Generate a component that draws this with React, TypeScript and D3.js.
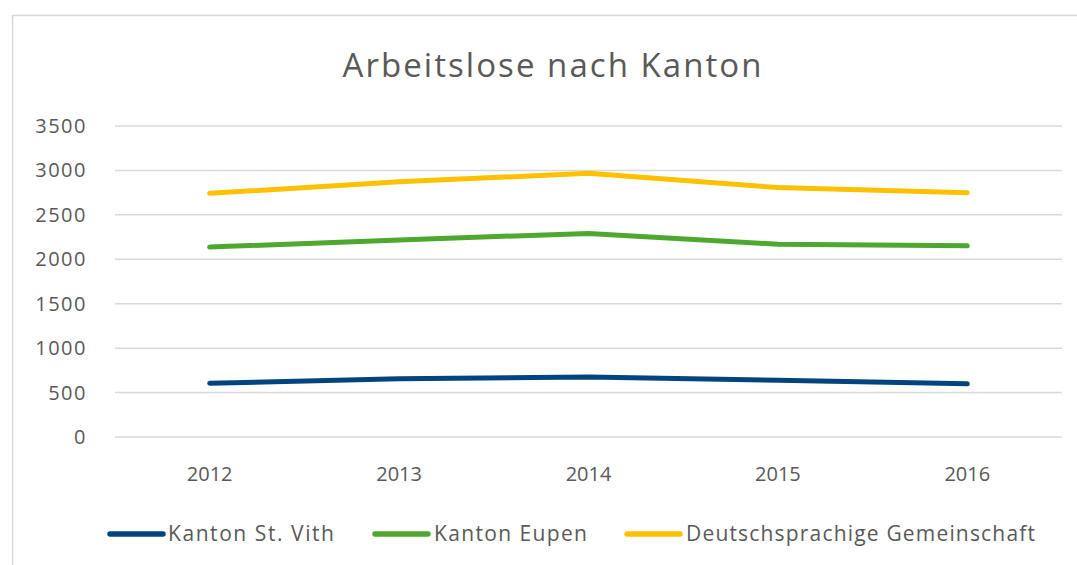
import React from "react";
import * as d3 from "d3";

const years = ["2012", "2013", "2014", "2015", "2016"];
const stVith = [605, 655, 676, 638, 598];
const eupen = [2137, 2218, 2291, 2169, 2151];
const dg = [2742, 2873, 2967, 2807, 2749];
const yTicks = [0, 500, 1000, 1500, 2000, 2500, 3000, 3500];
const seriesNames = ["Kanton St. Vith", "Kanton Eupen", "Deutschsprachige Gemeinschaft"];
const seriesColors = ["#02447e", "#4ea72e", "#ffc000"];

const W = 1077;
const H = 565;
const FONT = "'Open Sans', 'DejaVu Sans', sans-serif";
const TEXT = "#595959";

export default function App() {
  const x = d3.scaleBand<string>().domain(years).range([115, 1062]).padding(0);
  const y = d3.scaleLinear().domain([0, 3500]).range([437, 126]);
  const cx = (d: string) => (x(d) as number) + x.bandwidth() / 2;
  const line = d3
    .line<number>()
    .x((_, i) => cx(years[i]))
    .y((v) => y(v));
  const data = [stVith, eupen, dg];

  const legend = [
    { lx: 110, tx: 168, w: 166 },
    { lx: 375, tx: 434, w: 153 },
    { lx: 627, tx: 686, w: 349 },
  ];

  return (
    <div style={{ position: "absolute", left: 0, top: 0 }}>
      <svg width={W} height={H} style={{ display: "block", background: "#fff" }}>
        <rect x={12.5} y={15.5} width={W + 20} height={H + 20} fill="#fff" stroke="#d9d9d9" strokeWidth={1.5} />
        <text
          x={552}
          y={77}
          textAnchor="middle"
          fontFamily={FONT}
          fontSize={33}
          fill={TEXT}
          textLength={419}
          lengthAdjust="spacing"
        >
          Arbeitslose nach Kanton
        </text>
        {yTicks.map((t) => (
          <g key={t}>
            <line x1={115} x2={1062} y1={y(t)} y2={y(t)} stroke="#d9d9d9" strokeWidth={1.5} />
            <text
              x={87}
              y={y(t) + 7}
              textAnchor="end"
              fontFamily={FONT}
              fontSize={20}
              fill={TEXT}
              letterSpacing={1.5}
            >
              {t}
            </text>
          </g>
        ))}
        {years.map((yr) => (
          <text
            key={yr}
            x={cx(yr)}
            y={481}
            textAnchor="middle"
            fontFamily={FONT}
            fontSize={20}
            fill={TEXT}
          >
            {yr}
          </text>
        ))}
        {data.map((d, i) => (
          <path
            key={i}
            d={line(d) as string}
            fill="none"
            stroke={seriesColors[i]}
            strokeWidth={5}
            strokeLinecap="round"
            strokeLinejoin="round"
          />
        ))}
        {seriesNames.map((n, i) => (
          <g key={n}>
            <line
              x1={legend[i].lx}
              x2={legend[i].lx + 53}
              y1={534}
              y2={534}
              stroke={seriesColors[i]}
              strokeWidth={5.5}
              strokeLinecap="round"
            />
            <text
              x={legend[i].tx}
              y={541}
              fontFamily={FONT}
              fontSize={21}
              fill={TEXT}
              textLength={legend[i].w}
              lengthAdjust="spacing"
            >
              {n}
            </text>
          </g>
        ))}
      </svg>
    </div>
  );
}
